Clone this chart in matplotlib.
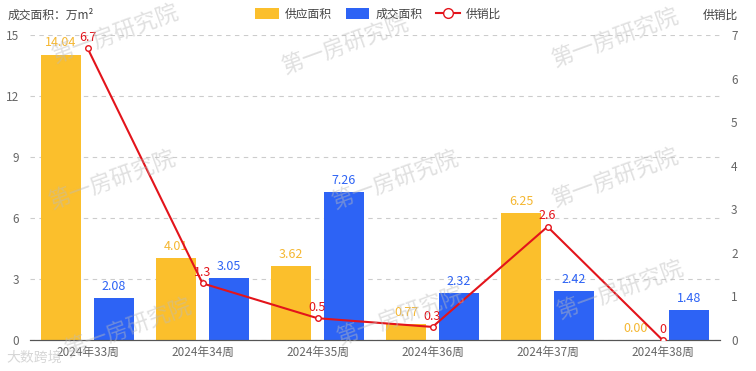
import numpy as np
import matplotlib
matplotlib.use("Agg")
import matplotlib.pyplot as plt
from matplotlib.lines import Line2D
from matplotlib.patches import Patch

plt.rcParams['font.family'] = ['Noto Sans CJK SC', 'DejaVu Sans']

weeks = ["2024年33周", "2024年34周", "2024年35周", "2024年36周", "2024年37周", "2024年38周"]
supply = [14.04, 4.01, 3.62, 0.77, 6.25, 0.00]
deals = [2.08, 3.05, 7.26, 2.32, 2.42, 1.48]
ratio = [6.7, 1.3, 0.5, 0.3, 2.6, 0]
ratio_labels = ["6.7", "1.3", "0.5", "0.3", "2.6", "0"]

YELLOW = "#FBBF2C"
BLUE = "#2D63F5"
RED = "#E3141B"
GRAY = "#666666"

fig = plt.figure(figsize=(7.56, 3.71), dpi=100)
ax = fig.add_axes([30 / 756, 31 / 371, 690 / 756, 305 / 371])
ax2 = ax.twinx()

x = np.arange(len(weeks))
w = 0.35
off = 0.23
ax.bar(x - off, supply, w, color=YELLOW, zorder=2)
ax.bar(x + off, deals, w, color=BLUE, zorder=2)

for i in range(len(weeks)):
    ax.text(x[i] - off, supply[i] + 0.25, f"{supply[i]:.2f}", ha="center", va="bottom",
            color="#F5B731", fontsize=9)
    ax.text(x[i] + off, deals[i] + 0.25, f"{deals[i]:.2f}", ha="center", va="bottom",
            color="#2D63F5", fontsize=9)

ax.set_xlim(-0.5, len(weeks) - 0.5)
ax.set_ylim(0, 15)
ax.set_yticks(np.arange(0, 16, 3))
ax.set_xticks(x)
ax.set_xticklabels(weeks)
ax.grid(axis="y", color="#cccccc", linestyle=(0, (4, 4)), linewidth=0.8, zorder=0)
ax.set_axisbelow(True)

ax2.plot(x, ratio, color=RED, linewidth=1.5, marker="o", markersize=4,
         markerfacecolor="white", markeredgecolor=RED, markeredgewidth=1, zorder=5)
for i in range(len(weeks)):
    ax2.text(x[i], ratio[i] + 0.1, ratio_labels[i], ha="center", va="bottom",
             color=RED, fontsize=9, zorder=6)
ax2.set_ylim(0, 7)
ax2.set_yticks(np.arange(0, 8, 1))

for a in (ax, ax2):
    for s in ("top", "left", "right"):
        a.spines[s].set_visible(False)
    a.spines["bottom"].set_color("#555555")
    a.tick_params(axis="both", length=0, colors=GRAY, labelsize=8.5)
ax.tick_params(axis="y", pad=8)
ax2.tick_params(axis="y", pad=8)
ax.tick_params(axis="x", pad=4)

fig.text(8 / 756, 1 - 15 / 371, "成交面积：万m²", fontsize=8.5, color="#444444", va="center")
fig.text(738 / 756, 1 - 15 / 371, "供销比", fontsize=8.5, color="#444444", va="center", ha="right")

handles = [
    Patch(facecolor=YELLOW, edgecolor="none", label="供应面积"),
    Patch(facecolor=BLUE, edgecolor="none", label="成交面积"),
    Line2D([0], [0], color=RED, marker="o", markersize=7, markerfacecolor="white",
           markeredgecolor=RED, linewidth=1.5, label="供销比"),
]
fig.legend(handles=handles, loc="center", bbox_to_anchor=(0.5, 1 - 14 / 371), ncol=3,
           frameon=False, fontsize=8.5, handlelength=2.0, handleheight=1.0,
           columnspacing=1.2, handletextpad=0.5, labelcolor="#444444")

# watermarks
marks = [(115, 34), (345, 45), (615, 38), (112, 180), (395, 180), (615, 178),
         (128, 328), (400, 316), (620, 290)]
for mx, my in marks:
    fig.text(mx / 756, 1 - my / 371, "第一房研究院", fontsize=16, color="#bbbbbb",
             alpha=0.45, rotation=20, ha="center", va="center", zorder=10)
fig.text(6 / 756, 1 - 358 / 371, "大数跨境", fontsize=10, color="#cccccc", alpha=0.8,
         va="center", zorder=10)

fig.savefig("out.png", dpi=100)
